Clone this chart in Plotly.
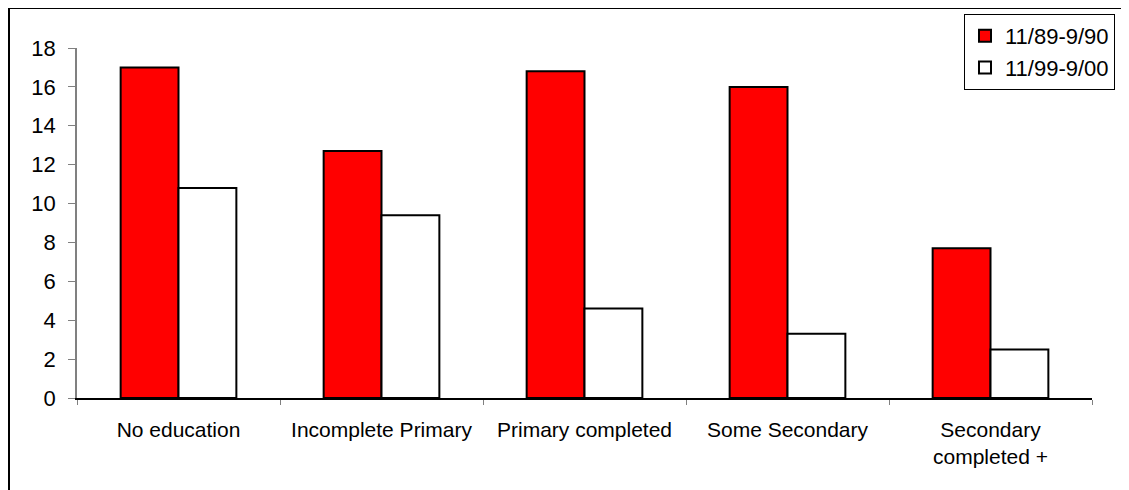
import plotly.graph_objects as go

categories = ["No education", "Incomplete Primary", "Primary completed", "Some Secondary", "Secondary<br>completed +"]
series_1989 = [17.0, 12.7, 16.8, 16.0, 7.7]
series_1999 = [10.8, 9.4, 4.6, 3.3, 2.5]
y_ticks = [0, 2, 4, 6, 8, 10, 12, 14, 16, 18]

FONT = "Arial, Liberation Sans, sans-serif"

fig = go.Figure()
fig.add_trace(go.Bar(x=categories, y=series_1989, name="11/89-9/90", legendgroup="a",
                     marker=dict(color="#FF0000", line=dict(color="black", width=2))))
fig.add_trace(go.Bar(x=categories, y=series_1999, name="11/99-9/00", legendgroup="b",
                     marker=dict(color="#FFFFFF", line=dict(color="black", width=2))))

# page body has an 8px margin, so figure coords = screen coords - 8
OFF = 8
W, H = 1129, 490
L, R, T, B = 77 - OFF, W - (1092 - OFF), 48 - OFF, H - (398 - OFF)
pw, ph = W - L - R, H - T - B

def px(x):
    return (x - OFF - L) / pw

def py(y):
    return (H - B - (y - OFF)) / ph

fig.update_layout(
    width=W, height=H,
    margin=dict(l=L, r=R, t=T, b=B, autoexpand=False),
    paper_bgcolor="white", plot_bgcolor="white",
    font=dict(family=FONT, size=21, color="black"),
    barmode="group", bargap=0.43, bargroupgap=0,
    showlegend=True,
    legend=dict(x=px(964), y=py(14), xanchor="left", yanchor="top",
                bordercolor="black", borderwidth=1, bgcolor="white",
                font=dict(size=22), tracegroupgap=9, traceorder="normal",
                itemwidth=30),
    xaxis=dict(showline=True, linecolor="black", linewidth=1.5,
               ticks="outside", tickson="boundaries", ticklen=5, tickcolor="#808080",
               showgrid=False, ticklabelstandoff=12, fixedrange=True,
               tickfont=dict(size=21)),
    yaxis=dict(range=[0, 18], tickvals=y_ticks, showline=True, linecolor="#808080", linewidth=1.5,
               ticks="outside", ticklen=7, tickcolor="#808080", showgrid=False, zeroline=False,
               ticklabelstandoff=8, fixedrange=True, tickfont=dict(size=22)),
    shapes=[dict(type="rect", xref="paper", yref="paper",
                 x0=px(9), y0=py(700), x1=px(1400), y1=py(8),
                 line=dict(color="black", width=2), fillcolor="rgba(0,0,0,0)", layer="below")],
)

fig.write_html("out.html")
